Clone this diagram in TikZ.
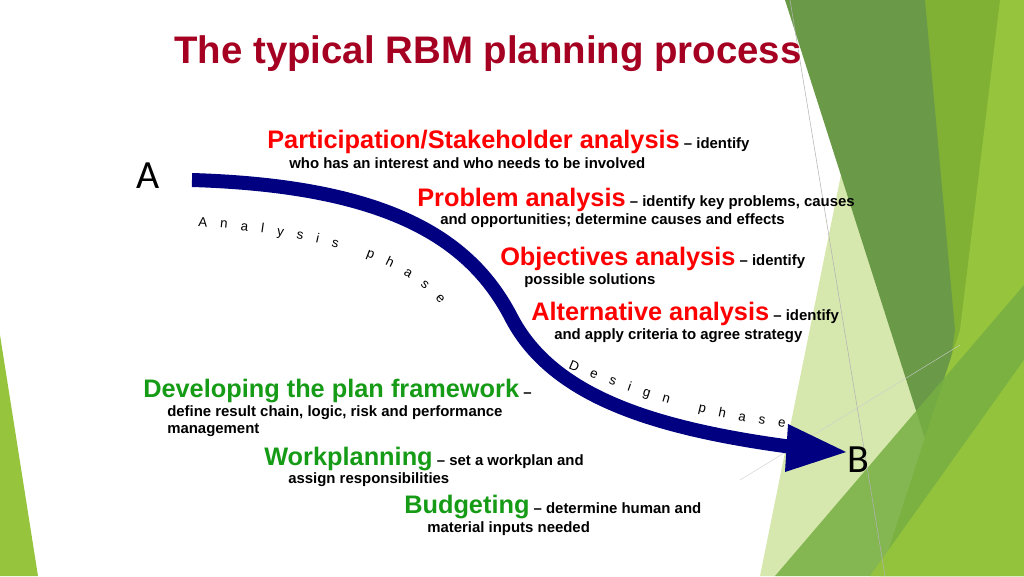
\documentclass[tikz,border=0pt]{standalone}
\usepackage{fontspec}
\setmainfont{Liberation Sans}
\newfontfamily\calfont{Carlito}
\usetikzlibrary{decorations.text}
\definecolor{titlered}{HTML}{A50021}
\definecolor{navy}{HTML}{000080}
\definecolor{hgreen}{HTML}{169B16}
\definecolor{palegreen}{RGB}{215,232,175}
\definecolor{darkg}{RGB}{106,154,72}
\definecolor{oliveg}{RGB}{128,176,52}
\definecolor{brightg}{RGB}{150,196,60}
\definecolor{midg}{RGB}{118,174,66}
\begin{document}
\begin{tikzpicture}[x=0.75pt,y=-0.75pt,
  head/.style={anchor=west,inner sep=0pt,font=\fontsize{19}{21}\selectfont\bfseries},
  sub/.style={anchor=west,inner sep=0pt,font=\fontsize{11.2}{13}\selectfont\bfseries},
  letter/.style={inner sep=0pt,font=\calfont\fontsize{30}{30}\selectfont},
  phase/.style={font=\fontsize{22}{22}\selectfont\bfseries}]
\useasboundingbox (0,0) rectangle (1024,576);
% background shapes
\fill[palegreen] (850,130) -- (1000,576) -- (760,576) -- cycle;
\fill[oliveg] (920,0) -- (1002,0) -- (975,220) -- (945,450) -- cycle;
\fill[darkg] (785,0) -- (925,0) -- (955,330) -- (935,470) -- cycle;
\fill[brightg] (1000,0) -- (1024,0) -- (1024,576) -- (880,576) -- (960,330) -- cycle;
\fill[midg,opacity=0.85] (1024,285) -- (1024,576) -- (775,576) -- cycle;
\fill[brightg,opacity=0.9] (1024,360) -- (1024,576) -- (870,576) -- cycle;
\fill[brightg] (0,335) -- (38,576) -- (0,576) -- cycle;
\draw[gray!60,line width=0.4pt] (790,0) -- (885,576);
\draw[gray!40,line width=0.3pt] (740,480) -- (960,345);
% title
\node[inner sep=0pt,font=\fontsize{28.8}{30}\selectfont\bfseries,text=titlered] (title) at (488,54) {The typical RBM planning process};
% arrow
\draw[navy,line width=10.5pt] (192,180) .. controls (390,186) and (470,240) .. (510,315) .. controls (550,395) and (650,428) .. (792,447);
\fill[navy] (788,424) -- (846,452) -- (785,472) -- cycle;
\node[letter] (A) at (148,176) {A};
\node[letter] (B) at (858,460) {B};
% WordArt phases
\path[phase,decorate,decoration={text along path,text align=fit to path,
  text={Analysis phase}}]
  (198,226) .. controls (320,236) and (400,258) .. (440,304);
\path[phase,decorate,decoration={text along path,text align=fit to path,
  text={Design phase}}]
  (568,368) .. controls (640,398) and (700,416) .. (785,428);
% analysis items
\node[head] (p1) at (267,142) {\textcolor{red}{Participation/Stakeholder analysis}\fontsize{11.2}{13}\selectfont{} – identify};
\node[sub] (p1s) at (289,163) {who has an interest and who needs to be involved};
\node[head] (p2) at (417,200) {\textcolor{red}{Problem analysis}\fontsize{11.2}{13}\selectfont{} – identify key problems, causes};
\node[sub] (p2s) at (440,221) {and opportunities; determine causes and effects};
\node[head] (p3) at (500,259) {\textcolor{red}{Objectives analysis}\fontsize{11.2}{13}\selectfont{} – identify};
\node[sub] (p3s) at (524,281) {possible solutions};
\node[head] (p4) at (531,314) {\textcolor{red}{Alternative analysis}\fontsize{11.2}{13}\selectfont{} – identify};
\node[sub] (p4s) at (554,336) {and apply criteria to agree strategy};
% design items
\node[head] (d1) at (143,391) {\textcolor{hgreen}{Developing the plan framework}\fontsize{11.2}{13}\selectfont{} –};
\node[sub] (d1s) at (167,413) {define result chain, logic, risk and performance};
\node[sub] (d1t) at (167,430) {management};
\node[head] (d2) at (264,459) {\textcolor{hgreen}{Workplanning}\fontsize{11.2}{13}\selectfont{} – set a workplan and};
\node[sub] (d2s) at (288,480) {assign responsibilities};
\node[head] (d3) at (404,507) {\textcolor{hgreen}{Budgeting}\fontsize{11.2}{13}\selectfont{} – determine human and};
\node[sub] (d3s) at (427,529) {material inputs needed};
\end{tikzpicture}
\end{document}
